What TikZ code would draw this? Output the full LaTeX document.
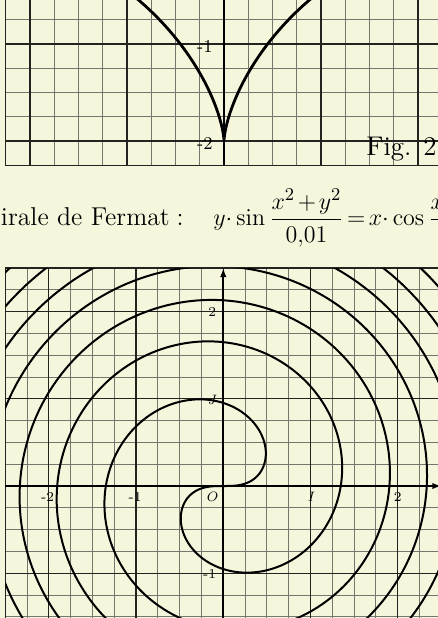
\documentclass[tikz,border=0pt]{standalone}
\usetikzlibrary{arrows.meta}
\definecolor{paper}{RGB}{245,246,220}
\definecolor{minorcol}{RGB}{118,118,110}
\definecolor{majorcol}{RGB}{35,35,32}
\begin{document}
\begin{tikzpicture}[
  minorgrid/.style={minorcol, line width=0.45pt},
  majorgrid/.style={majorcol, line width=0.6pt},
  axisline/.style={black, line width=1.1pt},
  curveline/.style={black, line width=1pt, line join=round},
  thickcurve/.style={black, line width=1.4pt, line join=round},
  axarrow/.style={-{Latex[length=4.5pt,width=3.2pt]}},
  lab/.style={inner sep=0pt, font=\fontsize{6.8}{7}\selectfont},
  toplab/.style={inner sep=0pt, font=\fontsize{9}{10}\selectfont},
  titletext/.style={anchor=base west, inner sep=0pt, font=\fontsize{12.5}{14}\selectfont},
]
\useasboundingbox[fill=paper] (0,0) rectangle (219pt,-309pt);
\clip (0,0) rectangle (219pt,-309pt);

% ---------- top figure (Fig. 2) ----------
\begin{scope}[shift={(112pt,26.5pt)}, x=48.5pt, y=48.5pt]
  \draw[minorgrid, step=0.25] (-2.25,-2.25) grid (2.5,0.5);
  \draw[majorgrid, step=1] (-2.25,-2.25) grid (2.5,0.5);
  \draw[majorgrid] (-2.25,-2.25) rectangle (2.5,0.5);
  \draw[axisline] (0,-2.25) -- (0,0.5);
  \draw[thickcurve] plot[domain=-150:-30, samples=241]
    ({2*cos(\x)*cos(\x)*cos(\x)},{2*sin(\x)*sin(\x)*sin(\x)});
  \coordinate (tm1) at (0,-1);
  \coordinate (tm2) at (0,-2);
  \node[toplab, anchor=east, xshift=-5.5pt, yshift=-1.3pt] (lm1) at (tm1) {-1};
  \node[toplab, anchor=east, xshift=-5.5pt, yshift=-1pt] (lm2) at (tm2) {-2};
\end{scope}
\node[anchor=base west, inner sep=0pt, font=\fontsize{13.5}{15}\selectfont] (fig) at (183pt,-77.5pt) {Fig. 2};

% ---------- title ----------
\node[titletext, font=\fontsize{12.9}{14}\selectfont] (titre) at (0.3pt,-112.8pt) {irale de Fermat\kern3.5pt:};
\node[titletext] (equation) at (106.5pt,-112.8pt)
  {\medmuskip=2mu\thickmuskip=2.5mu$\displaystyle y{\cdot}\sin\frac{x^2+y^2}{0{,}01}=x{\cdot}\cos\frac{x^2+y^2}{0{,}01}$};

% ---------- bottom figure (spirale) ----------
\begin{scope}[shift={(111.65pt,-243pt)}, x=43.6pt, y=43.6pt]
  \draw[minorgrid, step=0.25] (-2.5,-2.5) grid (2.5,2.5);
  \draw[majorgrid, step=1] (-2.5,-2.5) grid (2.5,2.5);
  \draw[majorgrid] (-2.5,-2.5) rectangle (2.5,2.5);
  \begin{scope}
    \clip (-2.5,-2.5) rectangle (2.5,2.5);
    \draw[curveline] plot[domain=0:4.8, samples=500, smooth]
      ({0.76*\x*cos(deg(\x*\x))},{0.76*\x*sin(deg(\x*\x))});
    \draw[curveline] plot[domain=0:4.8, samples=500, smooth]
      ({-0.76*\x*cos(deg(\x*\x))},{-0.76*\x*sin(deg(\x*\x))});
  \end{scope}
  \coordinate (xmin) at (-2.5,0);
  \coordinate (xmax) at (2.5,0);
  \coordinate (ymin) at (0,-2.5);
  \coordinate (ymax) at (0,2.5);
  \draw[axisline, axarrow] (xmin) -- (xmax);
  \draw[axisline, axarrow] (ymin) -- (ymax);
  \coordinate (O) at (0,0);
  \node[lab, yshift=-5.5pt, xshift=-0.6pt] (xm2) at (-2,0) {-2};
  \node[lab, yshift=-5.5pt, xshift=-0.5pt] (xm1) at (-1,0) {-1};
  \node[lab, yshift=-5.5pt] (xI) at (1,0) {\itshape I};
  \node[lab, yshift=-5.5pt] (x2) at (2,0) {2};
  \node[lab, anchor=east, xshift=-2.7pt, yshift=-5.5pt] (lO) at (O) {\itshape O};
  \node[lab, anchor=east, xshift=-3.4pt, yshift=-0.2pt] (y2) at (0,2) {2};
  \node[lab, anchor=east, xshift=-3.6pt, yshift=-0.6pt] (yJ) at (0,1) {\itshape J};
  \node[lab, anchor=east, xshift=-3.4pt, yshift=-0.3pt] (ym1) at (0,-1) {-1};
\end{scope}
\end{tikzpicture}
\end{document}
